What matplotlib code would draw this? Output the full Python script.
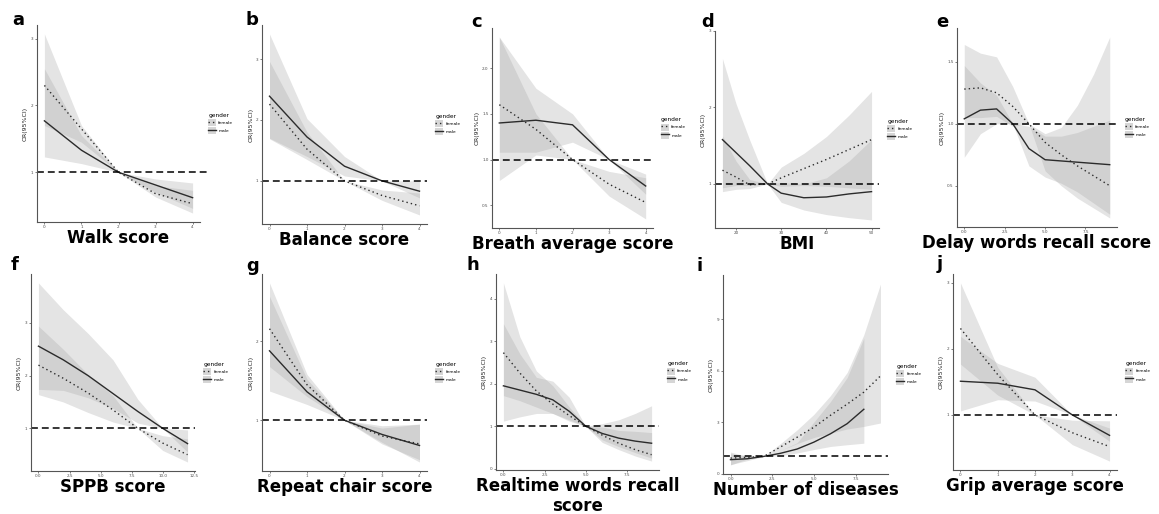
import matplotlib
matplotlib.use("Agg")
import matplotlib.pyplot as plt
from matplotlib.patches import Patch
from matplotlib.lines import Line2D

# --- values: OR (95% CI) by gender ---
# a  Walk score
a_x = [0, 1, 2, 3, 4]
a_f = [2.30, 1.65, 1.00, 0.68, 0.53]
a_f_lo = [1.70, 1.45, 1.00, 0.63, 0.39]
a_f_hi = [3.07, 1.70, 1.00, 0.80, 0.73]
a_m = [1.77, 1.33, 1.00, 0.81, 0.62]
a_m_lo = [1.23, 1.13, 1.00, 0.70, 0.46]
a_m_hi = [2.55, 1.55, 1.00, 0.90, 0.84]
a_xticks = [0, 1, 2, 3, 4]
a_yticks = [1, 2, 3]

# b  Balance score
b_x = [0, 1, 2, 3, 4]
b_f = [2.26, 1.52, 1.00, 0.76, 0.59]
b_f_lo = [1.69, 1.35, 1.00, 0.68, 0.44]
b_f_hi = [2.96, 1.80, 1.00, 0.85, 0.80]
b_m = [2.39, 1.72, 1.24, 1.00, 0.83]
b_m_lo = [1.70, 1.40, 1.08, 1.00, 0.72]
b_m_hi = [3.41, 2.02, 1.40, 1.00, 1.00]
b_xticks = [0, 1, 2, 3, 4]
b_yticks = [1, 2, 3]

# c  Breath average score
c_x = [0, 1, 2, 3, 4]
c_f = [1.60, 1.33, 1.00, 0.73, 0.53]
c_f_lo = [0.77, 1.05, 1.00, 0.60, 0.35]
c_f_hi = [2.34, 1.50, 1.00, 0.87, 0.80]
c_m = [1.40, 1.43, 1.38, 1.00, 0.71]
c_m_lo = [1.08, 1.08, 1.19, 1.00, 0.62]
c_m_hi = [2.34, 1.78, 1.50, 1.00, 0.84]
c_xticks = [0, 1, 2, 3, 4]
c_yticks = [0.5, 1.0, 1.5, 2.0]

# d  BMI
d_x = [17, 20, 23, 27, 30, 35, 40, 45, 50]
d_f = [1.18, 1.09, 0.99, 1.00, 1.08, 1.20, 1.32, 1.45, 1.58]
d_f_lo = [0.90, 0.93, 0.94, 1.00, 0.97, 0.98, 0.97, 0.95, 0.93]
d_f_hi = [1.63, 1.30, 1.06, 1.00, 1.22, 1.40, 1.62, 1.90, 2.21]
d_m = [1.58, 1.41, 1.24, 1.00, 0.88, 0.82, 0.83, 0.87, 0.90]
d_m_lo = [0.95, 0.98, 0.98, 1.00, 0.76, 0.66, 0.60, 0.56, 0.53]
d_m_hi = [2.64, 2.05, 1.58, 1.00, 1.02, 1.00, 1.08, 1.30, 1.58]
d_xticks = [20, 30, 40, 50]
d_yticks = [1, 2, 3]

# e  Delay words recall score
e_x = [0, 1, 2, 3, 4, 5, 6, 7, 8, 9]
e_f = [1.28, 1.29, 1.25, 1.14, 1.00, 0.85, 0.75, 0.66, 0.58, 0.50]
e_f_lo = [1.05, 1.05, 1.06, 0.98, 1.00, 0.62, 0.50, 0.40, 0.32, 0.24]
e_f_hi = [1.64, 1.57, 1.54, 1.30, 1.00, 0.92, 0.97, 1.15, 1.40, 1.70]
e_m = [1.04, 1.11, 1.12, 1.00, 0.80, 0.71, 0.70, 0.69, 0.68, 0.67]
e_m_lo = [0.73, 0.92, 1.00, 1.00, 0.66, 0.57, 0.52, 0.45, 0.36, 0.27]
e_m_hi = [1.47, 1.33, 1.23, 1.00, 0.98, 0.90, 0.90, 0.93, 0.98, 1.03]
e_xticks = [0, 2.5, 5, 7.5]
e_yticks = [0.5, 1.0, 1.5]

# f  SPPB score
f_x = [0, 2, 4, 6, 8, 10, 12]
f_f = [2.20, 1.95, 1.67, 1.35, 1.00, 0.72, 0.50]
f_f_lo = [1.64, 1.50, 1.30, 1.12, 1.00, 0.58, 0.36]
f_f_hi = [2.94, 2.50, 2.02, 1.62, 1.00, 0.86, 0.80]
f_m = [2.56, 2.30, 2.00, 1.66, 1.32, 1.00, 0.71]
f_m_lo = [1.74, 1.72, 1.58, 1.38, 1.10, 1.00, 0.55]
f_m_hi = [3.76, 3.25, 2.80, 2.30, 1.55, 1.00, 0.97]
f_xticks = [0, 2.5, 5, 7.5, 10, 12.5]
f_yticks = [1, 2, 3]

# g  Repeat chair score
g_x = [0, 1, 2, 3, 4]
g_f = [2.16, 1.45, 1.00, 0.80, 0.70]
g_f_lo = [1.68, 1.30, 1.00, 0.70, 0.50]
g_f_hi = [2.74, 1.58, 1.00, 0.90, 0.95]
g_m = [1.88, 1.36, 1.00, 0.82, 0.68]
g_m_lo = [1.37, 1.20, 1.00, 0.72, 0.47]
g_m_hi = [2.57, 1.52, 1.00, 0.93, 0.95]
g_xticks = [0, 1, 2, 3, 4]
g_yticks = [1, 2]

# h  Realtime words recall score
h_x = [0, 1, 2, 3, 4, 5, 6, 7, 8, 9]
h_f = [2.73, 2.25, 1.83, 1.52, 1.25, 1.00, 0.79, 0.60, 0.45, 0.33]
h_f_lo = [1.72, 1.60, 1.45, 1.30, 1.12, 1.00, 0.62, 0.45, 0.30, 0.18]
h_f_hi = [4.37, 3.10, 2.30, 1.95, 1.45, 1.00, 0.98, 0.90, 0.88, 0.85]
h_m = [1.95, 1.85, 1.75, 1.62, 1.35, 1.00, 0.83, 0.72, 0.65, 0.60]
h_m_lo = [1.12, 1.22, 1.30, 1.30, 1.15, 1.00, 0.68, 0.52, 0.38, 0.25]
h_m_hi = [3.41, 2.70, 2.15, 2.06, 1.68, 1.00, 1.06, 1.15, 1.30, 1.48]
h_xticks = [0, 2.5, 5, 7.5]
h_yticks = [0, 1, 2, 3, 4]

# i  Number of diseases (male curve stops at 8)
i_x_f = [0, 1, 2, 3, 4, 5, 6, 7, 8, 9]
i_f = [0.90, 0.94, 1.00, 1.55, 2.12, 2.70, 3.40, 4.05, 4.75, 5.70]
i_f_lo = [0.50, 0.85, 1.00, 1.35, 1.75, 2.10, 2.35, 2.60, 2.75, 2.95]
i_f_hi = [1.15, 1.05, 1.00, 1.75, 2.55, 3.45, 4.55, 5.90, 8.10, 11.06]
i_x_m = [0, 1, 2, 3, 4, 5, 6, 7, 8]
i_m = [0.81, 0.86, 1.00, 1.18, 1.43, 1.83, 2.32, 2.91, 3.75]
i_m_lo = [0.52, 0.75, 1.00, 1.05, 1.20, 1.40, 1.58, 1.68, 1.77]
i_m_hi = [1.25, 1.00, 1.00, 1.35, 1.80, 3.00, 4.20, 5.60, 7.90]
i_xticks = [0, 2.5, 5, 7.5]
i_yticks = [0, 3, 6, 9]

# j  Grip average score
j_x = [0, 1, 2, 3, 4]
j_f = [2.31, 1.61, 1.00, 0.73, 0.52]
j_f_lo = [1.77, 1.30, 1.00, 0.55, 0.30]
j_f_hi = [3.00, 1.72, 1.00, 0.92, 0.91]
j_m = [1.51, 1.48, 1.38, 1.00, 0.69]
j_m_lo = [1.06, 1.23, 1.21, 1.00, 0.60]
j_m_hi = [2.19, 1.78, 1.57, 1.00, 0.80]
j_xticks = [0, 1, 2, 3, 4]
j_yticks = [1, 2, 3]

panels = [
    ("a", "Walk score", a_x, a_f, a_f_lo, a_f_hi, a_x, a_m, a_m_lo, a_m_hi, a_xticks, a_yticks),
    ("b", "Balance score", b_x, b_f, b_f_lo, b_f_hi, b_x, b_m, b_m_lo, b_m_hi, b_xticks, b_yticks),
    ("c", "Breath average score", c_x, c_f, c_f_lo, c_f_hi, c_x, c_m, c_m_lo, c_m_hi, c_xticks, c_yticks),
    ("d", "BMI", d_x, d_f, d_f_lo, d_f_hi, d_x, d_m, d_m_lo, d_m_hi, d_xticks, d_yticks),
    ("e", "Delay words recall score", e_x, e_f, e_f_lo, e_f_hi, e_x, e_m, e_m_lo, e_m_hi, e_xticks, e_yticks),
    ("f", "SPPB score", f_x, f_f, f_f_lo, f_f_hi, f_x, f_m, f_m_lo, f_m_hi, f_xticks, f_yticks),
    ("g", "Repeat chair score", g_x, g_f, g_f_lo, g_f_hi, g_x, g_m, g_m_lo, g_m_hi, g_xticks, g_yticks),
    ("h", "Realtime words recall\nscore", h_x, h_f, h_f_lo, h_f_hi, h_x, h_m, h_m_lo, h_m_hi, h_xticks, h_yticks),
    ("i", "Number of diseases", i_x_f, i_f, i_f_lo, i_f_hi, i_x_m, i_m, i_m_lo, i_m_hi, i_xticks, i_yticks),
    ("j", "Grip average score", j_x, j_f, j_f_lo, j_f_hi, j_x, j_m, j_m_lo, j_m_hi, j_xticks, j_yticks),
]

# --- layout (pixels in the 1159x514 canvas): left, top, right, bottom of each panel ---
W, H = 1159, 514
AX_BOX = {
    "a": (37, 25, 200, 222), "b": (262, 25, 427, 224), "c": (492, 28, 653, 228),
    "d": (715, 31, 879, 228), "e": (957, 28, 1117, 227),
    "f": (31, 274, 195, 471), "g": (262, 274, 427, 471), "h": (496, 274, 659, 470),
    "i": (723, 275, 888, 474), "j": (953, 274, 1117, 470),
}
LETTER_POS = {
    "a": (12, 25), "b": (246, 25), "c": (471, 27), "d": (701, 27), "e": (936, 27),
    "f": (11, 270), "g": (246, 271), "h": (466, 270), "i": (696, 271), "j": (937, 269),
}
HLINE_END = {"a": 1.055}

BAND = "#a6a6a6"
LINE = "#2b2b2b"
AXIS = "#555555"
DOTTED = (0, (1, 2.2))

fig = plt.figure(figsize=(W / 100, H / 100), dpi=100)

for (tag, xlabel, xf, yf, flo, fhi, xm, ym, mlo, mhi, xticks, yticks) in panels:
    l, t, r, b = AX_BOX[tag]
    ax = fig.add_axes([l / W, 1 - b / H, (r - l) / W, (b - t) / H])

    ax.fill_between(xf, flo, fhi, color=BAND, alpha=0.3, lw=0)
    ax.fill_between(xm, mlo, mhi, color=BAND, alpha=0.3, lw=0)
    ax.plot(xf, yf, color=LINE, lw=1.0, linestyle=DOTTED)
    ax.plot(xm, ym, color=LINE, lw=1.0)
    ax.axhline(1, xmin=0, xmax=HLINE_END.get(tag, 1.0), color="black",
               lw=1.1, linestyle=(0, (4.5, 2.6)), clip_on=False)
    ax.margins(0.05)

    ax.set_xticks(xticks)
    ax.set_yticks(yticks)
    dec = any(float(v) != int(v) for v in xticks)
    ax.set_xticklabels([f"{v:.1f}" if dec else f"{v:g}" for v in xticks])
    dec = any(float(v) != int(v) for v in yticks)
    ax.set_yticklabels([f"{v:.1f}" if dec else f"{v:g}" for v in yticks])
    ax.tick_params(labelsize=3, colors="#4d4d4d", length=1.5, width=0.5, pad=1)

    for s in ("top", "right"):
        ax.spines[s].set_visible(False)
    for s in ("left", "bottom"):
        ax.spines[s].set_color(AXIS)
        ax.spines[s].set_linewidth(0.8)

    ax.set_ylabel("OR(95%CI)", fontsize=4.5, color="#222222", labelpad=2)
    ax.set_xlabel(xlabel, fontsize=12, fontweight="bold", labelpad=0, linespacing=1.1)

    handles = [
        (Patch(facecolor="#d6d6d6", edgecolor="none"), Line2D([], [], color=LINE, lw=1.0, linestyle=DOTTED)),
        (Patch(facecolor="#d6d6d6", edgecolor="none"), Line2D([], [], color=LINE, lw=1.0)),
    ]
    leg = ax.legend(handles, ["female", "male"], title="gender", loc="center left",
                    bbox_to_anchor=(1.05, 0.5), frameon=False, fontsize=3.2,
                    title_fontsize=4.2, handlelength=1.7, handleheight=2.0,
                    borderpad=0, borderaxespad=0, labelspacing=0.3, handletextpad=0.6)
    leg._legend_box.align = "left"

    lx, ly = LETTER_POS[tag]
    fig.text(lx / W, 1 - ly / H, tag, fontsize=13, fontweight="bold", va="baseline")

fig.savefig("out.png", dpi=100)
